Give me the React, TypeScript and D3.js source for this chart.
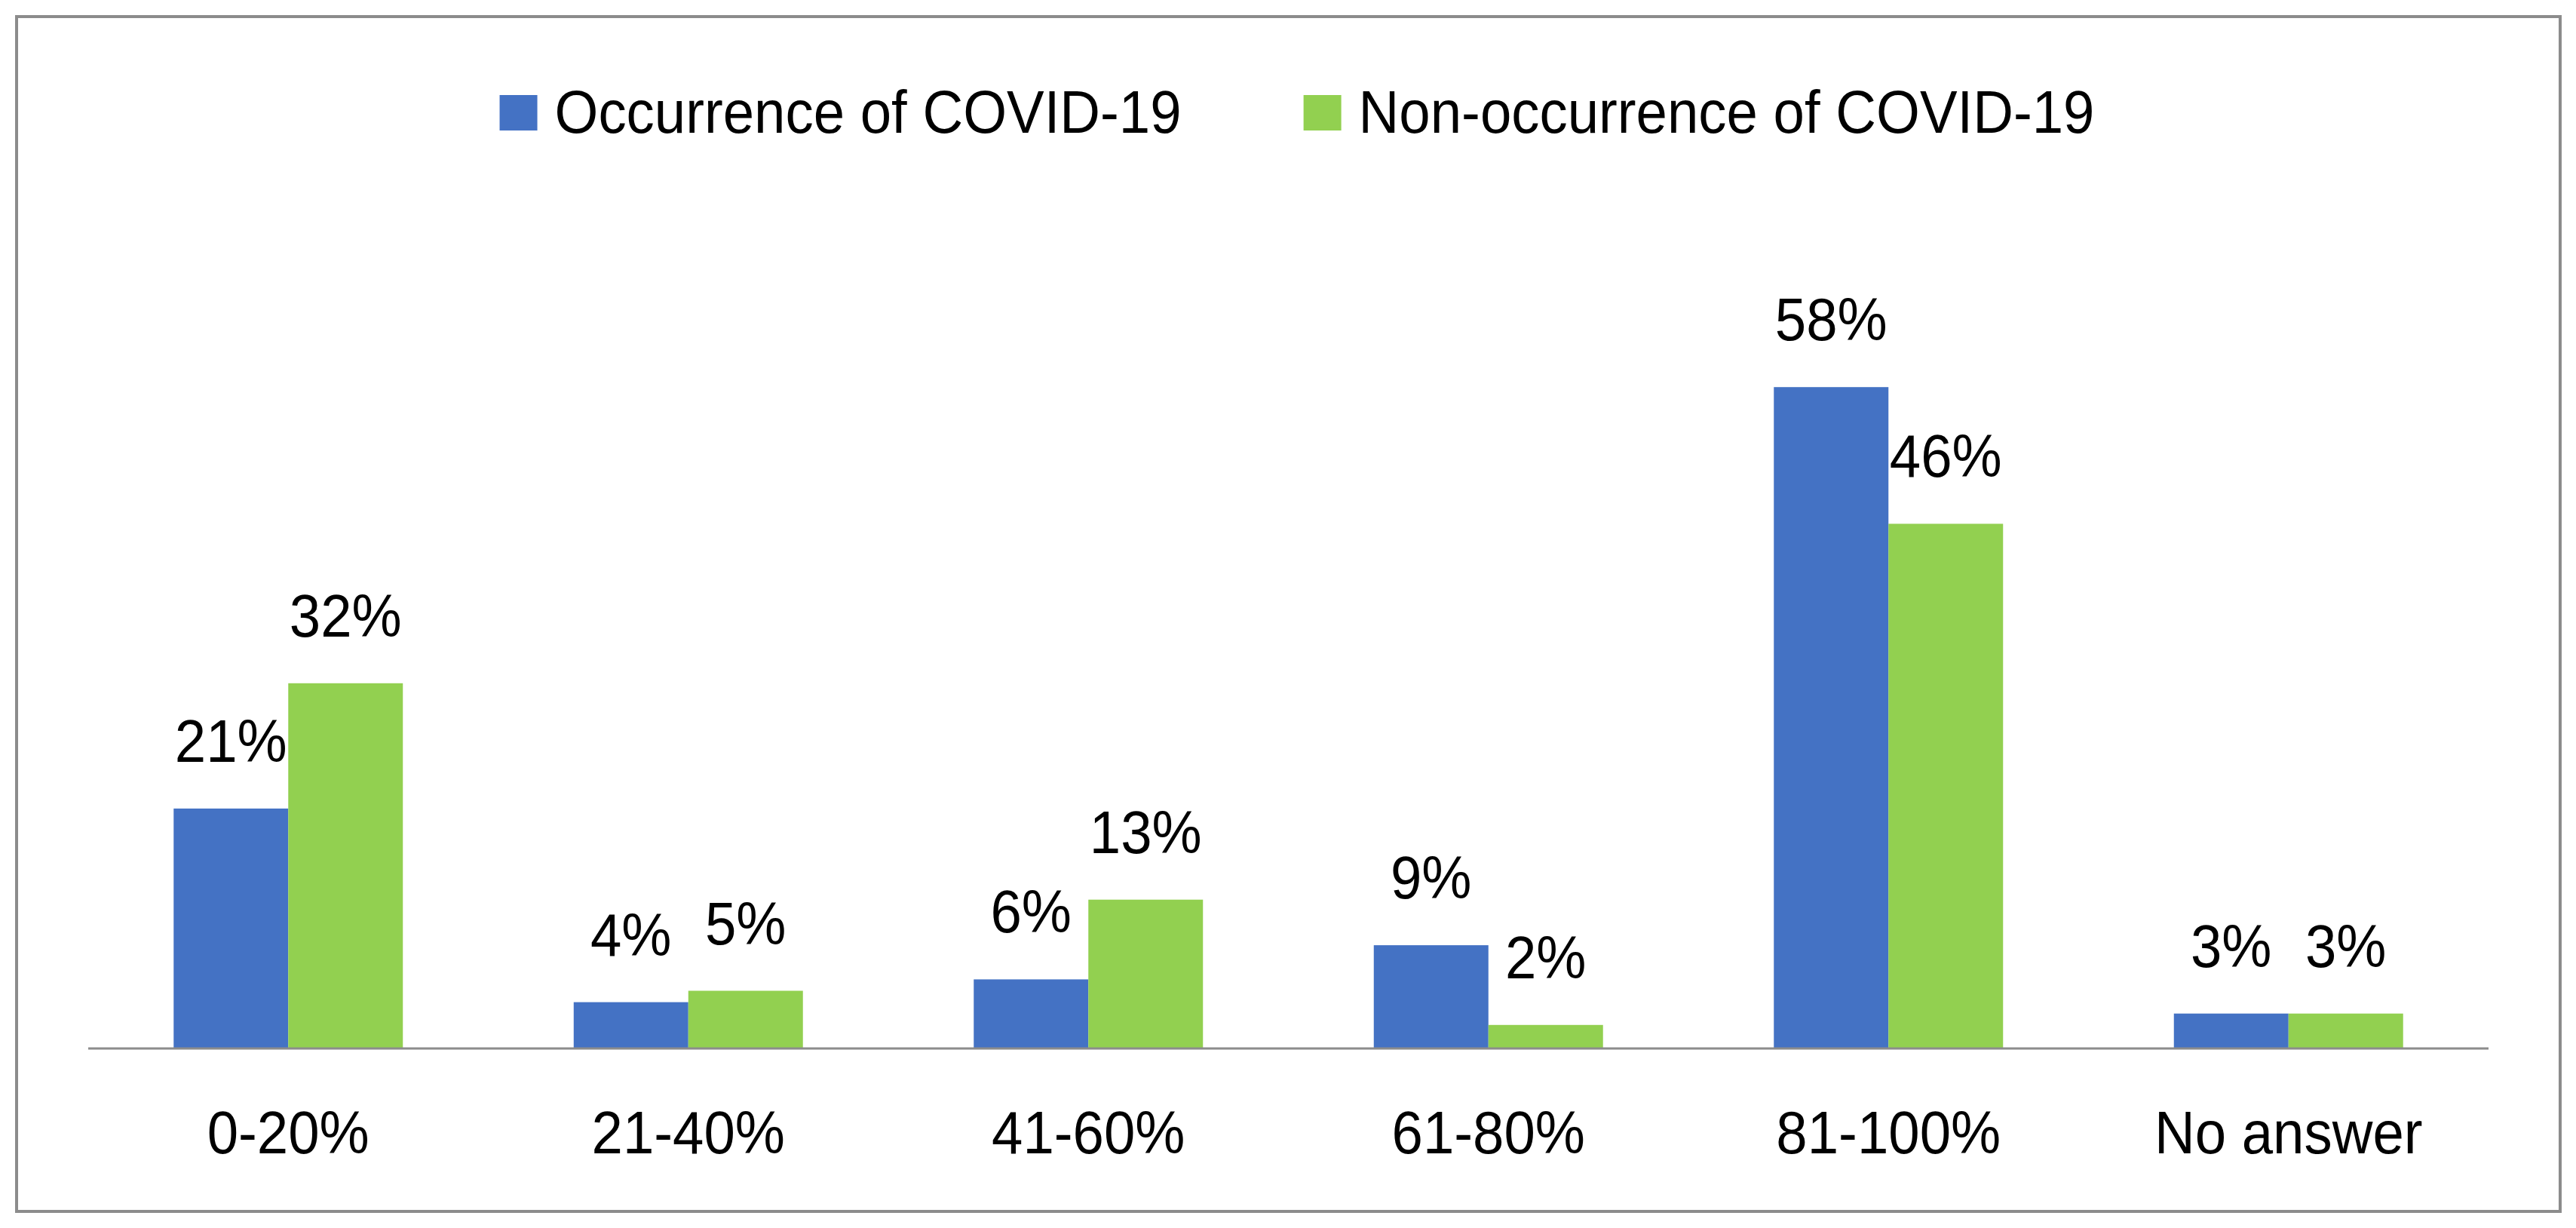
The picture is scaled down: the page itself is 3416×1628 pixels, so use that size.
import * as d3 from 'd3'
import React from 'react'

const categories = ['0-20%', '21-40%', '41-60%', '61-80%', '81-100%', 'No answer']
const seriesNames = ['Occurrence of COVID-19', 'Non-occurrence of COVID-19']
const occurrence = [21, 4, 6, 9, 58, 3]
const nonOccurrence = [32, 5, 13, 2, 46, 3]
const colors = ['#4472C4', '#92D050']

const W = 3416
const H = 1628
const FONT = "'Liberation Sans', Arial, sans-serif"
const FS = 80
const SX = 0.93 // squeeze to get closer to the narrow Calibri look

export default function App() {
  const ref = React.useRef<SVGSVGElement>(null)

  React.useEffect(() => {
    const svg = d3.select(ref.current!)
    svg.selectAll('*').remove()

    const
      left = 117,
      right = 3300,
      base = 1389,
      x0 = d3.scaleBand<string>().domain(categories).range([left, right]).paddingInner(0.427).paddingOuter(0.2135),
      x1 = d3.scaleBand<number>().domain([0, 1]).range([0, x0.bandwidth()]),
      y = d3.scaleLinear().domain([0, 60]).range([base, base - 60 * 15.1]),
      series = [occurrence, nonOccurrence]

    const label = (sel: any) => sel
      .attr('font-family', FONT).attr('font-size', FS).attr('fill', '#000')

    // frame
    svg.append('rect')
      .attr('x', 22).attr('y', 22).attr('width', 3373).attr('height', 1584)
      .attr('fill', '#fff').attr('stroke', '#8c8c8c').attr('stroke-width', 4)

    // bars + value labels
    series.forEach((vals, s) => {
      const g = svg.append('g')
      g.selectAll('rect').data(vals).join('rect')
        .attr('x', (_, i) => x0(categories[i])! + x1(s)!)
        .attr('y', d => y(d))
        .attr('width', x1.bandwidth())
        .attr('height', d => base - y(d))
        .attr('fill', colors[s])
      g.selectAll('text').data(vals).join('text')
        .attr('transform', (d, i) =>
          `translate(${x0(categories[i])! + x1(s)! + x1.bandwidth() / 2},${y(d) - 62}) scale(${SX},1)`)
        .attr('text-anchor', 'middle')
        .call(label)
        .text(d => `${d}%`)
    })

    // category axis
    svg.append('line')
      .attr('x1', left).attr('x2', right).attr('y1', base + 1).attr('y2', base + 1)
      .attr('stroke', '#8c8c8c').attr('stroke-width', 3)
    svg.append('g').selectAll('text').data(categories).join('text')
      .attr('transform', d => `translate(${x0(d)! + x0.bandwidth() / 2},${base + 140}) scale(${SX},1)`)
      .attr('text-anchor', 'middle')
      .call(label)
      .text(d => d)

    // legend, centred over the plot
    const legend = svg.append('g')
    const items = legend.selectAll('g').data(seriesNames).join('g')
    items.append('rect')
      .attr('x', 0).attr('y', 126).attr('width', 50).attr('height', 47)
      .attr('fill', (_, i) => colors[i])
    const labels = items.append('text')
      .attr('transform', `translate(73,176) scale(${SX},1)`)
      .call(label)
      .text(d => d)
    const widths = labels.nodes().map(n => (n as SVGTextElement).getComputedTextLength() * SX)
    const gap = 162
    const total = d3.sum(widths, w => w + 73) + gap
    let cx = 1720 - total / 2
    items.attr('transform', (_, i) => {
      const t = `translate(${cx},0)`
      cx += widths[i] + 73 + gap
      return t
    })
  }, [])

  return (
    <svg ref={ref} width={W} height={H}
      style={{ position: 'absolute', left: 0, top: 0, background: '#fff' }} />
  )
}
